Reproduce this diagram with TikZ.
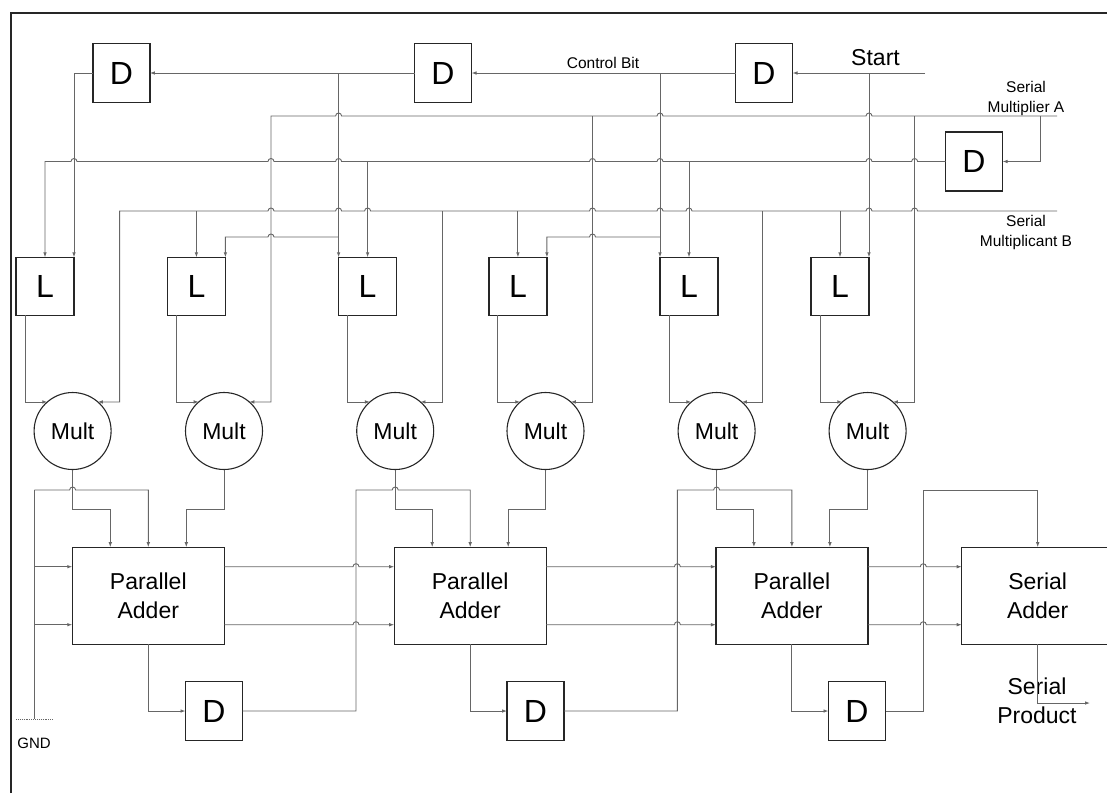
\documentclass[tikz,border=0pt]{standalone}
\usepackage{fontspec}
\setmainfont{Liberation Sans}
\usetikzlibrary{arrows.meta,calc}

% hop of a horizontal wire over a vertical one, going left or right
\newcommand\hopl[2]{-- (#1+3,#2) arc[start angle=0,end angle=180,radius=3pt]}
\newcommand\hopr[2]{-- (#1-3,#2) arc[start angle=180,end angle=0,radius=3pt]}

\tikzset{
  wire/.style={draw=black!60, line width=0.9pt},
  sig/.style={wire, -{Latex[length=5pt,width=3.6pt]}},
  frame/.style={draw=black!85, line width=2pt},
  dbox/.style={draw=black!85, line width=1.3pt, outer sep=0pt, inner sep=0pt,
    minimum width=57pt, minimum height=59pt, font=\fontsize{32}{32}\selectfont},
  lbox/.style={dbox, minimum width=58pt, minimum height=58pt},
  mult/.style={circle, draw=black!85, line width=1.1pt, outer sep=0pt, inner sep=0pt,
    minimum size=77pt, font=\fontsize{23}{23}\selectfont},
  adder/.style={draw=black!85, line width=1.3pt, outer sep=0pt, align=center,
    minimum width=152pt, minimum height=97pt, font=\fontsize{23}{29}\selectfont},
  lbl/.style={align=center, inner sep=0pt, font=\fontsize{15.5}{20}\selectfont},
}

\begin{document}
\begin{tikzpicture}[x=1pt,y=-1pt]
\useasboundingbox (0,0) rectangle (1107,793);
\draw[frame] (10.7,793) -- (10.7,13.3) -- (1107,13.3);

% inputs
\coordinate (start) at (925,73);
\coordinate (inA) at (1057,116);
\coordinate (inB) at (1057,211);
\coordinate (brY) at (0,237);
\coordinate (feed) at (0,490);
\coordinate (jog) at (0,509);
\coordinate (c1) at (0,566.7);
\coordinate (c2) at (0,624.7);
\coordinate (gnd) at (34.3,719);
\coordinate (prod) at (1090,703);

\node[dbox] (d1) at (121.4,73) {D};
\node[dbox] (d2) at (443,73) {D};
\node[dbox] (d3) at (764,73) {D};
\node[dbox] (d4) at (974,161.5) {D};

\node[lbox] (lA) at (45,286.3) {L};
\node[lbox] (lB) at (196.4,286.3) {L};
\node[lbox] (lC) at (367.6,286.3) {L};
\node[lbox] (lD) at (517.9,286.3) {L};
\node[lbox] (lE) at (689,286.3) {L};
\node[lbox] (lF) at (840,286.3) {L};

\node[mult] (mA) at (72.6,431) {Mult};
\node[mult] (mB) at (224,431) {Mult};
\node[mult] (mC) at (395.2,431) {Mult};
\node[mult] (mD) at (545.5,431) {Mult};
\node[mult] (mE) at (716.6,431) {Mult};
\node[mult] (mF) at (867.6,431) {Mult};

\node[adder] (pA) at (148.3,595.7) {Parallel\\Adder};
\node[adder] (pB) at (470.2,595.7) {Parallel\\Adder};
\node[adder] (pC) at (791.9,595.7) {Parallel\\Adder};
\node[adder] (sA) at (1037.7,595.7) {Serial\\Adder};

\node[dbox] (dL1) at (214,711) {D};
\node[dbox] (dL2) at (535.5,711) {D};
\node[dbox] (dL3) at (857,711) {D};

\node[font=\fontsize{23}{23}\selectfont] (starttxt) at (875.5,58) {Start};
\node[lbl, anchor=south] (ctltxt) at (603,69) {Control Bit};
\node[lbl] (atxt) at (1026,98) {Serial\\Multiplier A};
\node[lbl] (btxt) at (1026,232) {Serial\\Multiplicant B};
\node[lbl, font=\fontsize{15}{15}\selectfont] (gndtxt) at (34,743) {GND};
\node[align=center, font=\fontsize{23}{29}\selectfont] (ptxt) at (1037,701) {Serial\\Product};

% control bit
\draw[sig] (start) -- (d3.east);
\draw[sig] (lF.north east |- start) -- (lF.north east);
\draw[sig] (d3.west) -- (d2.east);
\draw[sig] (d2.west) -- (d1.east);
\draw[sig] (d1.west) -| (lA.north east);
\draw[sig] (lC.north west |- d2.west) -- (lC.north west);
\draw[sig] (lE.north west |- d3.west) -- (lE.north west);
\draw[sig] (lC.north west |- brY) \hopl{271}{237} -| (lB.north east);
\draw[sig] (lE.north west |- brY) \hopl{592.5}{237} -| (lD.north east);

% multiplier A and its delayed copy
\draw[sig] (inA) \hopl{869}{116} \hopl{660}{116} \hopl{338.6}{116} -- (271,116) |- (mB.49);
\draw[sig] (1040,116) |- (d4.east);
\draw[sig] (914.6,116) |- (mF.49);
\draw[sig] (592.5,116) |- (mD.49);
\draw[sig] (d4.west) \hopl{914.6}{161.5} \hopl{869}{161.5} \hopl{660}{161.5} \hopl{592.5}{161.5}
  \hopl{338.6}{161.5} \hopl{271}{161.5} \hopl{74}{161.5} -| (lA.north);
\draw[sig] (lE.north |- d4.west) -- (lE.north);
\draw[sig] (lC.north |- d4.west) -- (lC.north);

% multiplicant B
\draw[sig] (inB) \hopl{914.6}{211} \hopl{869}{211} \hopl{689}{211} \hopl{660}{211} \hopl{592.5}{211}
  \hopl{367.6}{211} \hopl{338.6}{211} \hopl{271}{211} -- (119.6,211) |- (mA.49);
\draw[sig] (lF.north |- inB) -- (lF.north);
\draw[sig] (762,211) |- (mE.49);
\draw[sig] (lD.north |- inB) -- (lD.north);
\draw[sig] (442.2,211) |- (mC.49);
\draw[sig] (lB.north |- inB) -- (lB.north);

% latches to multipliers
\draw[sig] ([xshift=9pt]lA.south west) |- (mA.131);
\draw[sig] ([xshift=9pt]lB.south west) |- (mB.131);
\draw[sig] ([xshift=9pt]lC.south west) |- (mC.131);
\draw[sig] ([xshift=9pt]lD.south west) |- (mD.131);
\draw[sig] ([xshift=9pt]lE.south west) |- (mE.131);
\draw[sig] ([xshift=9pt]lF.south west) |- (mF.131);

% multipliers to adders
\draw[sig] (mA.south) -- (mA.south |- jog) -| ([xshift=-38pt]pA.north);
\draw[sig] (mB.south) -- (mB.south |- jog) -| ([xshift=38pt]pA.north);
\draw[sig] (mC.south) -- (mC.south |- jog) -| ([xshift=-38pt]pB.north);
\draw[sig] (mD.south) -- (mD.south |- jog) -| ([xshift=38pt]pB.north);
\draw[sig] (mE.south) -- (mE.south |- jog) -| ([xshift=-38pt]pC.north);
\draw[sig] (mF.south) -- (mF.south |- jog) -| ([xshift=38pt]pC.north);

% ground
\draw[wire] (gnd |- feed) -- (gnd);
\draw[wire, densely dotted] (16,719) -- (53,719);
\draw[sig] (gnd |- feed) \hopr{72.6}{490} -| (pA.north);
\draw[sig] (gnd |- c1) -- (pA.west |- c1);
\draw[sig] (gnd |- c2) -- (pA.west |- c2);

% adder chain
\draw[sig] (pA.east |- c1) \hopr{356}{566.7} -- (pB.west |- c1);
\draw[sig] (pA.east |- c2) \hopr{356}{624.7} -- (pB.west |- c2);
\draw[sig] (pB.east |- c1) \hopr{677.4}{566.7} -- (pC.west |- c1);
\draw[sig] (pB.east |- c2) \hopr{677.4}{624.7} -- (pC.west |- c2);
\draw[sig] (pC.east |- c1) \hopr{923.3}{566.7} -- (sA.west |- c1);
\draw[sig] (pC.east |- c2) \hopr{923.3}{624.7} -- (sA.west |- c2);

\draw[sig] (pA.south) |- (dL1.west);
\draw[sig] (pB.south) |- (dL2.west);
\draw[sig] (pC.south) |- (dL3.west);
\draw[sig] (dL1.east) -| (356,490) \hopr{395.2}{490} -| (pB.north);
\draw[sig] (dL2.east) -| (677.4,490) \hopr{716.6}{490} -| (pC.north);
\draw[sig] (dL3.east) -| (923.3,490) -| (sA.north);
\draw[sig] (sA.south) |- (prod);
\end{tikzpicture}
\end{document}
